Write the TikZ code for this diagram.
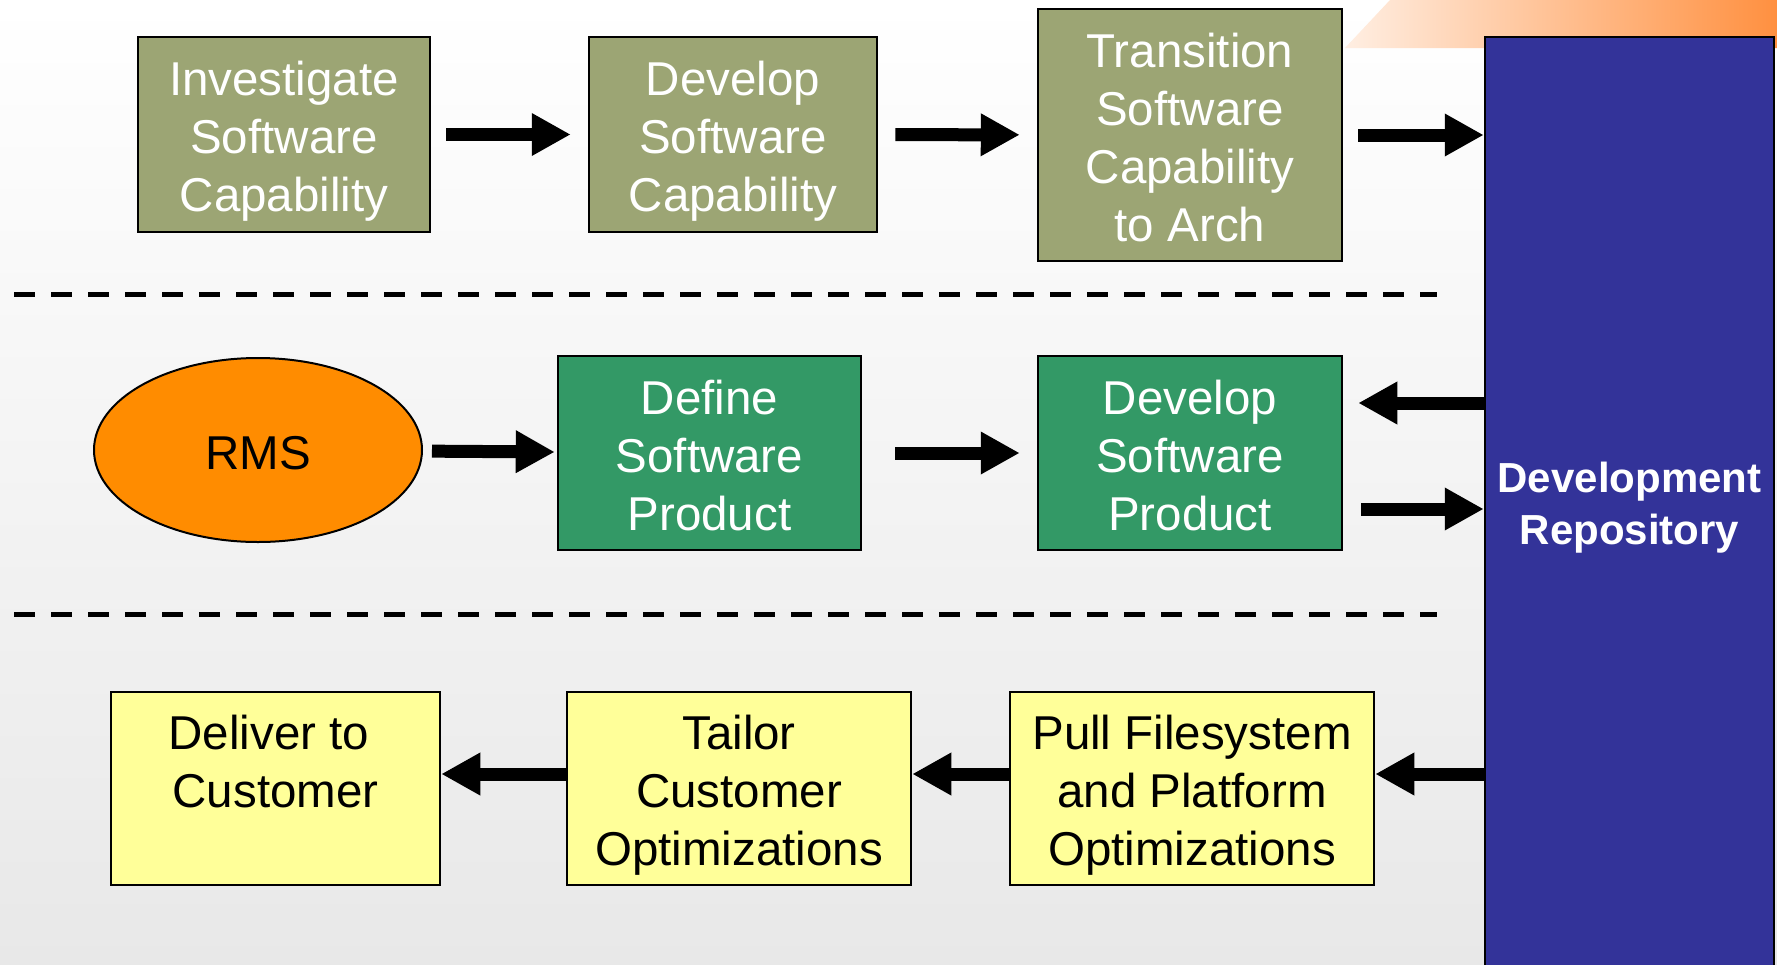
\documentclass[tikz,border=0pt]{standalone}
\usepackage{fontspec}
\setmainfont{Liberation Sans}
\usetikzlibrary{arrows.meta, shapes.geometric}
\definecolor{olivebox}{HTML}{9CA574}
\definecolor{greenbox}{HTML}{339966}
\definecolor{yellowbox}{HTML}{FFFF99}
\definecolor{rmsorange}{HTML}{FF8C00}
\definecolor{repoblue}{HTML}{333399}
\definecolor{bandorange}{HTML}{FF9040}

\begin{document}
\begin{tikzpicture}[
        x=1pt, y=-1pt,
        punkt/.style = {rectangle, draw, line width=2.5pt, inner sep=0pt, align=center,
                        font=\fontsize{47.5}{58}\selectfont,
                        execute at end node={\rule[-11pt]{0pt}{11pt}}},
        lines/.style = {execute at begin node={\rule{0pt}{\dimexpr 58pt*#1-9pt\relax}}},
        stage/.style = {punkt, fill=olivebox, text=white},
        prod/.style = {punkt, fill=greenbox, text=white},
        ship/.style = {punkt, fill=yellowbox},
        pil/.style = {line width=13pt, -{Triangle[length=39pt,width=40pt]}},
        sep/.style = {line width=5pt, dash pattern=on 21pt off 16pt}
        ]
        \useasboundingbox (0,0) rectangle (1777,964);
        \shade[top color=white, middle color=white, bottom color=black!9] (0,0) rectangle (1777,964);
        \shade[left color=bandorange!15, right color=bandorange] (1390,0) -- (1777,0) -- (1777,48) -- (1345,48) -- cycle;

        % top row
        \node[stage, lines=3, minimum width=292pt, minimum height=195pt] (inv) at (284,134.5) {Investigate\\Software\\Capability};
        \node[stage, lines=3, minimum width=288pt, minimum height=195pt] (devcap) at (733,134.5) {Develop\\Software\\Capability};
        \node[stage, lines=4, minimum width=304pt, minimum height=252pt] (trans) at (1190,135) {Transition\\Software\\Capability\\to Arch};
        \node[punkt, fill=repoblue, text=white, minimum width=289pt, minimum height=932pt,
              font=\fontsize{42}{52}\selectfont\bfseries,
              execute at begin node={\rule{0pt}{94pt}},
              execute at end node={\rule[-12pt]{0pt}{12pt}}] (repo) at (1629.5,503) {Development\\Repository};

        % middle row
        \node[punkt, lines=1, ellipse, line width=2pt, fill=rmsorange, minimum width=328pt, minimum height=184pt] (rms) at (258,450) {RMS};
        \node[prod, lines=3, minimum width=303pt, minimum height=194pt] (defprod) at (709.5,453) {Define\\Software\\Product};
        \node[prod, lines=3, minimum width=304pt, minimum height=194pt] (devprod) at (1190,453) {Develop\\Software\\Product};

        % bottom row
        \node[ship, lines=3, minimum width=329pt, minimum height=193pt] (deliver) at (275.5,788.5) {Deliver to\kern13pt\\Customer\\\mbox{}};
        \node[ship, lines=3, minimum width=344pt, minimum height=193pt] (tailor) at (739,788.5) {Tailor\\Customer\\Optimizations};
        \node[ship, lines=3, minimum width=364pt, minimum height=193pt] (pull) at (1192,788.5) {Pull Filesystem\\and Platform\\Optimizations};

        % separators
        \coordinate (s1a) at (14,294);
        \coordinate (s1b) at (1437,294);
        \coordinate (s2a) at (14,614);
        \coordinate (s2b) at (1437,614);
        \draw[sep] (s1a) -- (s1b);
        \draw[sep] (s2a) -- (s2b);

        \draw[pil, shorten <=15pt, shorten >=17pt] (inv) -- (devcap);
        \draw[pil, shorten <=17pt, shorten >=17pt] (devcap) -- (trans);
        \draw[pil, shorten <=15pt] (trans.east) -- (trans.east -| repo.west);
        \draw[pil, shorten <=9pt, shorten >=2pt] (rms) -- (defprod);
        \draw[pil, shorten <=33pt, shorten >=17pt] (defprod) -- (devprod);
        \draw[pil, shorten >=15pt] (repo.west |- 0,403) -- (devprod.east |- 0,403);
        \draw[pil, shorten <=18pt] (devprod.east |- 0,509) -- (repo.west |- 0,509);
        \draw[pil] (repo.west |- 0,774) -- (pull.east |- 0,774);
        \draw[pil] (pull.west |- 0,774) -- (tailor.east |- 0,774);
        \draw[pil] (tailor.west |- 0,774) -- (deliver.east |- 0,774);
\end{tikzpicture}
\end{document}
